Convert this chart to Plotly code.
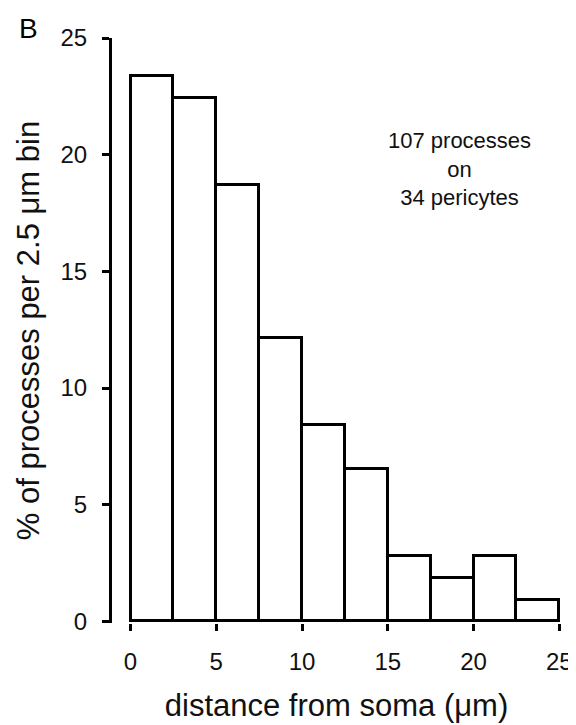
import plotly.graph_objects as go

# Data: histogram of process distance from soma (2.5 µm bins)
bin_starts = [0, 2.5, 5, 7.5, 10, 12.5, 15, 17.5, 20, 22.5]
bin_width = 2.5
percent = [23.36, 22.43, 18.69, 12.15, 8.41, 6.54, 2.80, 1.87, 2.80, 0.93]
x_ticks = [0, 5, 10, 15, 20, 25]
y_ticks = [0, 5, 10, 15, 20, 25]

FONT = "Liberation Sans, Arial, sans-serif"

fig = go.Figure()
fig.add_trace(go.Bar(
    x=bin_starts,
    y=percent,
    width=[bin_width] * len(bin_starts),
    offset=0,
    marker=dict(color="white", line=dict(color="black", width=3)),
    showlegend=False,
    hoverinfo="x+y",
))

# the page body adds an 8px margin, so the figure is sized to end at the window edge
fig.update_layout(
    width=568, height=717,
    margin=dict(l=104, r=15, t=30, b=102, autoexpand=False),
    plot_bgcolor="white", paper_bgcolor="white",
    font=dict(family=FONT, color="black"),
    bargap=0,
    xaxis=dict(
        range=[-1.08, 25.1],
        automargin=False,
        tickvals=x_ticks,
        ticks="outside", ticklen=7, tickwidth=3, tickcolor="black",
        showline=False, showgrid=False, zeroline=False,
        tickfont=dict(size=24, color="#111"),
        ticklabelstandoff=10,
        title=dict(text="distance from soma (μm)", font=dict(size=31, color="#111"), standoff=20),
    ),
    yaxis=dict(
        range=[-0.07, 25],
        automargin=False,
        tickvals=y_ticks,
        ticks="outside", ticklen=7, tickwidth=3, tickcolor="black",
        showline=True, linewidth=3, linecolor="black",
        showgrid=False, zeroline=False,
        tickfont=dict(size=24, color="#111"),
        ticklabelstandoff=10,
        title=dict(text="% of processes per 2.5 μm bin", font=dict(size=31, color="#111"), standoff=12),
    ),
    annotations=[
        dict(text="107 processes<br>on<br>34 pericytes", x=19.17, y=19.4,
             xref="x", yref="y", showarrow=False,
             font=dict(size=22, color="#111"), align="center"),
        dict(text="B", x=-0.187, y=1.0154, xref="paper", yref="paper",
             showarrow=False, font=dict(size=28, color="black"),
             xanchor="center", yanchor="middle"),
    ],
)

fig.write_html("out.html")
